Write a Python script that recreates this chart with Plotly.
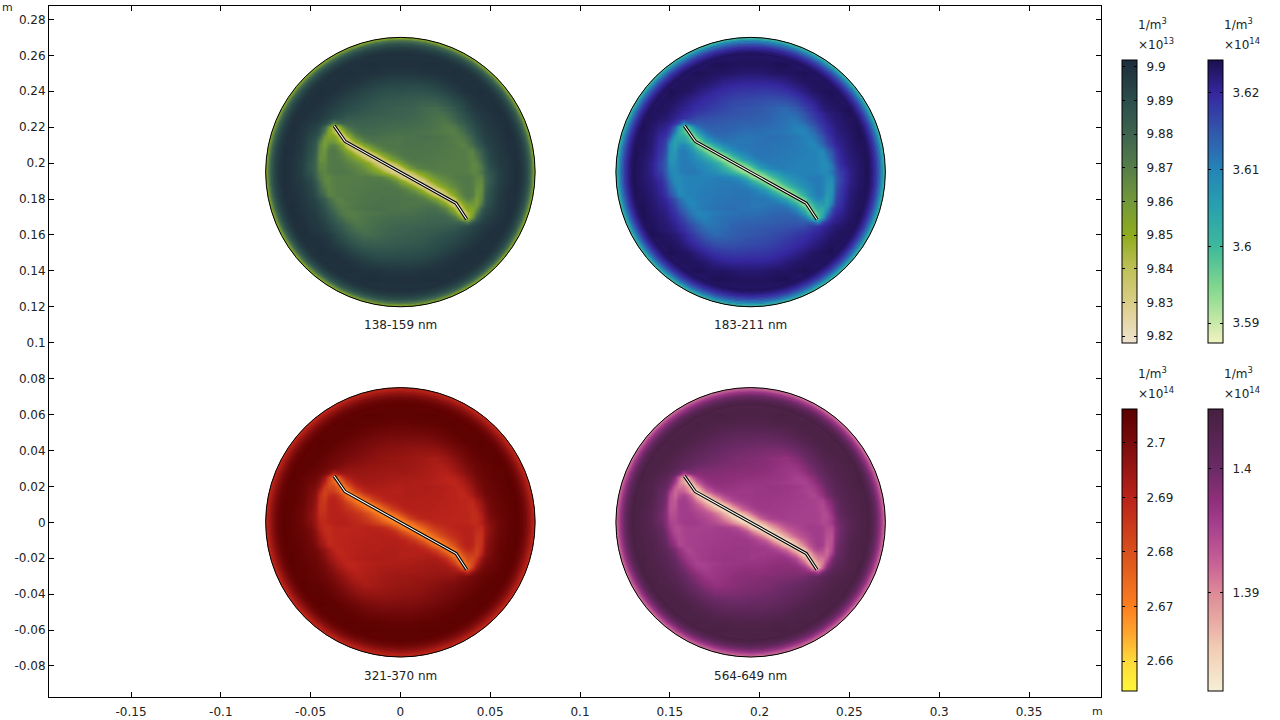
import numpy as np
import plotly.graph_objects as go
from plotly.colors import sample_colorscale

# axis ticks
X_TICKS = [-0.15, -0.1, -0.05, 0, 0.05, 0.1, 0.15, 0.2, 0.25, 0.3, 0.35]
X_LABELS = ["-0.15", "-0.1", "-0.05", "0", "0.05", "0.1", "0.15", "0.2", "0.25", "0.3", "0.35"]
Y_TICKS = [0.28, 0.26, 0.24, 0.22, 0.2, 0.18, 0.16, 0.14, 0.12, 0.1, 0.08, 0.06, 0.04, 0.02, 0,
           -0.02, -0.04, -0.06, -0.08]
Y_LABELS = ["0.28", "0.26", "0.24", "0.22", "0.2", "0.18", "0.16", "0.14", "0.12", "0.1", "0.08", "0.06",
            "0.04", "0.02", "0", "-0.02", "-0.04", "-0.06", "-0.08"]

# the four discs
DISC_LABELS = ["138-159 nm", "183-211 nm", "321-370 nm", "564-649 nm"]
DISC_CX = [0.0, 0.195, 0.0, 0.195]
DISC_CY = [0.195, 0.195, 0.0, 0.0]
DISC_R = 0.075

# plate outline relative to each disc centre (m)
PLATE_X = [-0.0369, -0.0308, 0.0310, 0.0369]
PLATE_Y = [0.0258, 0.0171, -0.0174, -0.0263]

# colour bar ranges, ticks
CB_MIN = [9.818, 3.5874, 2.6545, 1.3821]
CB_MAX = [9.902, 3.6243, 2.7062, 1.4048]
CB_TICKS_0 = [9.82, 9.83, 9.84, 9.85, 9.86, 9.87, 9.88, 9.89, 9.9]
CB_TICKS_1 = [3.59, 3.6, 3.61, 3.62]
CB_TICKS_2 = [2.66, 2.67, 2.68, 2.69, 2.7]
CB_TICKS_3 = [1.39, 1.4]
CB_EXP = ["13", "14", "14", "14"]

# colour maps (low value -> high value)
SCALE_0 = [[0, "#efe3d0"], [0.13, "#ddcf8c"], [0.26, "#bfc05a"], [0.38, "#8fac1e"], [0.5, "#72993a"],
           [0.62, "#567d47"], [0.74, "#3d6350"], [0.857, "#2b4d4b"], [1, "#1e2c3b"]]
SCALE_1 = [[0, "#f2f2c4"], [0.07, "#c9e9a9"], [0.2, "#80d68f"], [0.34, "#3fb99b"], [0.48, "#2aa0ae"],
           [0.61, "#2485b8"], [0.75, "#3356ab"], [0.88, "#3628a0"], [1, "#1d0f4f"]]
SCALE_2 = [[0, "#fff83a"], [0.106, "#ffd93a"], [0.2, "#fea730"], [0.3, "#fc7f20"], [0.493, "#d9501c"],
           [0.687, "#b9221a"], [0.88, "#7a0c0c"], [1, "#5a0000"]]
SCALE_3 = [[0, "#f5f0d5"], [0.15, "#f2cdb5"], [0.25, "#e8a9a3"], [0.348, "#dd8a98"], [0.45, "#c86296"],
           [0.6, "#a23d8c"], [0.68, "#8f2f7a"], [0.789, "#6b2a66"], [1, "#452040"]]
SCALES = [SCALE_0, SCALE_1, SCALE_2, SCALE_3]

# each disc's reading of the shared field: bar fraction at field 0 and at field 100, and curve
DISC_FLOOR = [0.0, 0.05, 0.2, 0.0]
DISC_CEIL = [1.0, 1.0, 1.0, 0.98]
DISC_CURVE = [0.92, 1.0, 1.0, 1.0]

# field, as percent of each colour bar; rows top to bottom, columns left to right,
# sample spacing 5 mm across the 150 mm disc
FIELD = [
 [90,90,90,90,90,90,90,90,90,90,90,90,90,90,90,90,90,90,90,90,90,90,90,90,90,90,90,90,90,90,90],
 [90,90,90,90,90,90,90,90,90,90,90,90,90,90,90,90,90,90,90,90,90,90,90,90,90,90,90,90,90,90,90],
 [90,90,90,90,90,90,90,90,90,90,91,93,95,96,97,97,97,96,95,93,91,90,90,90,90,90,90,90,90,90,90],
 [90,90,90,90,90,90,90,90,91,94,97,99,99,98,98,98,98,98,99,99,97,94,91,90,90,90,90,90,90,90,90],
 [90,90,90,90,90,90,90,93,97,99,98,97,97,96,95,95,95,96,97,97,98,99,97,93,90,90,90,90,90,90,90],
 [90,90,90,90,90,90,94,98,98,97,96,94,91,90,89,89,89,89,90,92,95,97,98,98,94,90,90,90,90,90,90],
 [90,90,90,90,90,94,99,98,97,94,91,88,86,84,83,83,82,82,83,85,89,93,97,98,99,94,90,90,90,90,90],
 [90,90,90,90,93,98,98,96,92,89,86,84,81,79,78,77,76,75,75,76,80,86,91,96,98,98,93,90,90,90,90],
 [90,90,90,94,98,98,96,92,89,85,83,80,78,76,75,74,73,71,69,68,72,79,86,93,96,98,99,95,90,90,90],
 [90,90,92,98,98,96,93,88,82,77,76,75,74,73,72,72,71,70,68,66,65,70,79,88,93,96,98,98,92,90,90],
 [90,90,94,99,96,92,85,70,60,65,70,71,71,70,69,68,68,67,66,64,62,63,70,82,90,95,97,99,94,90,90],
 [90,90,97,98,95,88,74,60,55,55,60,66,67,66,65,64,64,64,63,62,60,58,62,75,87,93,96,99,97,90,90],
 [90,92,98,98,94,85,70,58,55,50,45,50,60,63,62,62,62,61,60,59,58,56,57,68,82,91,95,98,98,92,90],
 [90,93,99,97,93,83,66,58,58,54,48,40,42,50,55,60,60,59,58,57,56,55,54,62,78,89,94,97,99,93,90],
 [90,95,99,96,91,80,64,60,60,58,54,48,42,38,42,48,52,56,57,56,55,54,53,58,74,87,93,96,99,95,90],
 [90,97,99,96,91,80,64,60,60,60,58,54,50,45,40,38,40,45,50,54,58,60,60,60,64,80,91,96,99,97,90],
 [90,95,99,96,93,87,74,58,53,54,55,56,57,56,52,48,42,38,42,48,54,58,60,60,64,80,91,96,99,95,90],
 [90,93,99,97,94,89,78,62,54,55,56,57,58,59,60,60,55,50,42,40,48,54,58,58,66,83,93,97,99,93,90],
 [90,92,98,98,95,91,82,68,57,56,58,59,60,61,62,62,62,63,60,50,45,50,55,58,70,85,94,98,98,92,90],
 [90,90,97,99,96,93,87,75,62,58,60,62,63,64,64,64,65,66,67,66,60,55,55,60,74,88,95,98,97,90,90],
 [90,90,94,99,97,95,90,82,70,63,62,64,66,67,68,68,69,70,71,71,70,65,60,70,85,92,96,99,94,90,90],
 [90,90,92,98,98,96,93,88,79,70,65,66,68,70,71,72,72,73,74,75,76,77,82,88,93,96,98,98,92,90,90],
 [90,90,90,95,99,98,96,93,86,79,72,68,69,71,73,74,75,76,78,80,83,85,89,92,96,98,98,94,90,90,90],
 [90,90,90,90,93,98,98,96,91,86,80,76,75,75,76,77,78,79,81,84,86,89,92,96,98,98,93,90,90,90,90],
 [90,90,90,90,90,94,99,98,97,93,89,85,83,82,82,83,83,84,86,88,91,94,97,98,99,94,90,90,90,90,90],
 [90,90,90,90,90,90,94,98,98,97,95,92,90,89,89,89,89,90,91,94,96,97,98,98,94,90,90,90,90,90,90],
 [90,90,90,90,90,90,90,93,97,99,98,97,97,96,95,95,95,96,97,97,98,99,97,93,90,90,90,90,90,90,90],
 [90,90,90,90,90,90,90,90,91,94,97,99,99,98,98,98,98,98,99,99,97,94,91,90,90,90,90,90,90,90,90],
 [90,90,90,90,90,90,90,90,90,90,91,93,95,96,97,97,97,96,95,93,91,90,90,90,90,90,90,90,90,90,90],
 [90,90,90,90,90,90,90,90,90,90,90,90,90,90,90,90,90,90,90,90,90,90,90,90,90,90,90,90,90,90,90],
 [90,90,90,90,90,90,90,90,90,90,90,90,90,90,90,90,90,90,90,90,90,90,90,90,90,90,90,90,90,90,90],
]

# finer reading of the central part around the plate: 2.5 mm spacing, +/-50 mm by +/-35 mm
PATCH = [
 [98,97,96,94,92,90,89,87,85,84,83,81,80,79,78,77,76,75,75,74,74,73,73,72,71,70,69,68,68,70,72,75,79,83,86,90,93,95,96,97,98],
 [97,96,94,92,90,87,86,83,81,80,79,78,77,76,76,75,75,74,74,73,73,72,72,71,70,69,68,67,66,66,68,70,74,78,82,86,89,92,94,95,96],
 [96,95,93,90,88,85,82,80,77,76,76,75,75,74,74,73,73,73,72,72,72,71,71,70,70,68,67,66,65,64,65,68,72,76,80,84,88,91,93,95,96],
 [94,92,90,85,78,60,68,72,72,72,73,73,73,72,72,71,71,70,70,70,70,70,69,69,68,67,66,65,64,63,62,64,67,72,76,81,85,89,92,94,95],
 [92,90,85,72,48,22,22,50,62,68,70,71,71,71,71,70,70,69,69,68,68,68,68,67,67,66,66,65,64,62,60,60,62,66,71,77,82,87,90,93,95],
 [90,87,80,62,40,28,12,26,46,58,65,68,69,69,69,68,68,67,66,66,66,66,66,65,65,64,64,63,62,61,60,59,59,62,67,73,79,85,89,92,94],
 [88,84,74,50,40,40,28,10,28,44,56,62,66,67,67,66,66,65,65,64,64,65,65,65,66,66,66,65,65,64,63,62,60,60,63,68,75,82,87,91,93],
 [86,80,62,44,48,46,38,20,8,25,40,50,58,62,64,64,64,63,63,63,63,65,65,65,65,65,65,64,64,63,62,61,60,58,60,65,71,79,85,90,92],
 [85,78,56,44,54,58,52,38,20,8,16,30,42,50,56,60,62,63,64,64,64,65,65,65,65,64,64,64,64,63,62,62,61,59,57,61,68,76,82,88,91],
 [84,76,54,48,60,62,58,50,38,26,14,7,16,30,42,50,56,60,61,62,63,64,64,64,64,64,64,63,63,62,62,61,61,60,60,58,58,68,76,84,90],
 [83,74,52,50,60,62,60,55,48,40,30,18,9,7,17,30,42,50,55,59,62,64,64,64,64,63,63,63,62,62,62,61,61,60,60,58,56,64,72,82,89],
 [82,72,52,52,60,62,61,58,54,50,44,36,27,16,6,9,20,32,43,50,55,60,62,63,63,63,63,62,62,61,61,61,60,60,60,58,56,60,70,80,88],
 [80,71,54,54,60,62,62,60,58,55,52,48,42,34,24,13,5,9,20,30,41,52,57,60,61,62,62,62,61,61,61,60,60,60,60,59,55,56,66,78,87],
 [80,71,56,56,60,62,62,62,60,58,56,53,50,44,37,29,20,10,4,8,18,32,44,52,57,59,60,61,61,60,60,60,60,60,60,59,55,56,62,74,85],
 [82,72,60,56,60,62,63,63,62,60,58,56,54,50,46,40,33,25,16,8,3,10,20,30,40,46,51,55,58,59,60,60,60,60,60,59,56,57,64,74,82],
 [85,74,62,56,55,59,60,60,60,60,60,60,61,61,60,59,57,52,44,32,18,8,4,10,20,29,37,44,50,53,56,58,60,62,62,62,60,56,56,71,80],
 [87,78,66,56,55,59,60,60,60,60,61,61,61,62,62,62,61,60,57,52,41,30,20,9,5,13,24,34,42,48,52,55,58,60,62,62,60,54,54,71,80],
 [88,80,70,60,56,58,60,60,60,61,61,61,62,62,63,63,63,63,62,60,55,50,43,32,20,9,6,16,27,36,44,50,54,58,61,62,60,52,52,72,82],
 [89,82,72,64,56,58,60,60,61,61,62,62,62,63,63,63,64,64,64,64,62,59,55,50,42,30,17,7,9,18,30,40,48,55,60,62,60,50,52,74,83],
 [90,84,76,68,58,58,60,60,61,61,62,62,63,63,64,64,64,64,64,64,63,62,61,60,56,50,42,30,16,7,14,26,38,50,58,62,60,48,54,76,84],
 [91,88,82,76,68,61,57,59,61,62,62,63,64,64,64,64,65,65,65,65,64,64,64,63,62,60,56,50,42,30,16,8,20,38,52,58,54,44,56,78,85],
 [92,90,85,79,71,65,60,58,60,61,62,63,64,64,65,65,65,65,65,65,63,63,63,63,64,64,64,62,58,50,40,25,8,20,38,46,48,44,62,80,86],
 [93,91,87,82,75,68,63,60,60,62,63,64,65,65,66,66,66,65,65,65,64,64,65,65,66,66,67,67,66,62,56,44,28,10,28,40,40,50,74,84,88],
 [94,92,89,85,79,73,67,62,59,59,60,61,62,63,64,64,65,65,66,66,66,66,66,67,68,68,69,69,69,68,65,58,46,26,12,28,40,62,80,87,90],
 [95,93,90,87,82,77,71,66,62,60,60,62,64,65,66,66,67,67,68,68,68,68,69,69,70,70,71,71,71,71,70,68,62,50,22,22,48,72,85,90,92],
 [95,94,92,89,85,81,76,72,67,64,62,63,64,65,66,67,68,69,69,70,70,70,70,70,71,71,72,72,73,73,73,72,72,72,68,60,78,85,90,92,94],
 [96,95,93,91,88,84,80,76,72,68,65,64,65,66,67,68,70,70,71,71,72,72,72,73,73,73,74,74,75,75,76,76,77,80,82,85,88,90,93,95,96],
 [96,95,94,92,89,86,82,78,74,70,68,66,66,67,68,69,70,71,72,72,73,73,74,74,75,75,76,76,77,78,79,80,81,83,86,87,90,92,94,96,97],
 [98,97,96,95,93,90,86,83,79,75,72,70,68,68,69,70,71,72,73,73,74,74,75,75,76,77,78,79,80,81,83,84,85,87,89,90,92,94,96,97,98],
]

# bright rim of each disc: radius fraction and percent of colour bar
RIM_RADII = [0.995, 0.985, 0.975, 0.965, 0.955, 0.945, 0.935, 0.925, 0.915, 0.905, 0.895, 0.885, 0.875]
RIM_LEVELS_0 = [42, 55, 66, 74, 80, 85, 88, 91, 93, 95, 96, 97, 98]
RIM_LEVELS_1 = [36, 48, 58, 66, 72, 78, 83, 87, 90, 93, 95, 97, 98]
RIM_LEVELS_2 = [65, 70, 74, 78, 82, 85, 88, 91, 93, 95, 96, 97, 98]
RIM_LEVELS_3 = [42, 50, 58, 65, 70, 76, 81, 85, 89, 92, 94, 96, 98]
RIM_LEVELS = [RIM_LEVELS_0, RIM_LEVELS_1, RIM_LEVELS_2, RIM_LEVELS_3]

# pixel frame of the axes
L, R, T, B = 49, 1101, 6, 697
PW, PH = R - L, B - T
px = lambda v: (v - L) / PW
py = lambda v: (B - v) / PH

field = np.array(FIELD, dtype=float)[::-1] / 100.0
grid = np.linspace(-DISC_R, DISC_R, field.shape[0])
patch = np.array(PATCH, dtype=float)[::-1] / 100.0
patch_x = np.linspace(-0.05, 0.05, patch.shape[1])
patch_y = np.linspace(-0.035, 0.035, patch.shape[0])

fig = go.Figure()
shapes = []
annotations = []
TEXT = dict(family="DejaVu Sans", size=12, color="#222222")

CB_TICKS = [CB_TICKS_0, CB_TICKS_1, CB_TICKS_2, CB_TICKS_3]
CB_LEFT = [1122.3, 1208.3, 1122.3, 1208.3]
CB_TOP = [60, 60, 409, 409]
CB_LEN = [283, 283, 282, 282]
coloraxes = {}
CLEAR = [[0, "rgba(0,0,0,0)"], [1, "rgba(0,0,0,0)"]]

for i in range(4):
    cx, cy = DISC_CX[i], DISC_CY[i]
    lo, hi = CB_MIN[i], CB_MAX[i]
    name = "coloraxis" if i == 0 else f"coloraxis{i + 1}"
    level = lambda f: lo + (DISC_FLOOR[i] + f ** DISC_CURVE[i] * (DISC_CEIL[i] - DISC_FLOOR[i])) * (hi - lo)
    fig.add_trace(go.Heatmap(x=cx + grid, y=cy + grid, z=level(field), coloraxis=name,
                             zsmooth="best", hoverinfo="skip"))
    fig.add_trace(go.Heatmap(x=cx + patch_x, y=cy + patch_y, z=level(patch), coloraxis=name,
                             zsmooth="best", hoverinfo="skip"))
    coloraxes[name] = dict(
        cmin=lo, cmax=hi, colorscale=SCALES[i],
        colorbar=dict(
            x=px(CB_LEFT[i]), xanchor="left", xpad=0, y=py(CB_TOP[i]), yanchor="top", ypad=0,
            thickness=15, thicknessmode="pixels", len=CB_LEN[i], lenmode="pixels",
            outlinecolor="black", outlinewidth=1, bordercolor="rgba(0,0,0,0)", borderwidth=0,
            tickmode="array", tickvals=CB_TICKS[i], ticktext=["\u00a0\u2009" + f"{t:g}" for t in CB_TICKS[i]],
            ticks="inside", ticklen=3, tickcolor="black", tickwidth=1, tickfont=TEXT,
        ),
    )
    # second, see-through bar over the left side of the first: carries the left-hand tick marks
    name2 = f"coloraxis{i + 5}"
    fig.add_trace(go.Heatmap(x=[1.0, 1.1], y=[1.0, 1.1], z=[[lo, hi], [lo, hi]], coloraxis=name2, hoverinfo="skip"))
    coloraxes[name2] = dict(
        cmin=lo, cmax=hi, colorscale=CLEAR,
        colorbar=dict(
            x=px(CB_LEFT[i]), xanchor="left", xpad=0, y=py(CB_TOP[i]), yanchor="top", ypad=0,
            thickness=3, thicknessmode="pixels", len=CB_LEN[i], lenmode="pixels", outlinewidth=0, borderwidth=0,
            tickmode="array", tickvals=CB_TICKS[i], ticks="inside", ticklen=3, tickcolor="black", tickwidth=1,
            showticklabels=False,
        ),
    )
    # white surround with a round hole
    t = np.linspace(0, 2 * np.pi, 181)
    hole = " ".join(("M" if k == 0 else "L") + f"{cx + DISC_R * np.cos(a):.5f},{cy + DISC_R * np.sin(a):.5f}"
                    for k, a in enumerate(t)) + " Z"
    s = 0.085
    square = (f"M{cx - s},{cy - s} L{cx - s},{cy + s} L{cx + s},{cy + s} L{cx + s},{cy - s} Z")
    shapes.append(dict(type="path", path=square + " " + hole, xref="x", yref="y",
                       fillcolor="white", line=dict(width=0), layer="above"))
    rim_colors = sample_colorscale(SCALES[i], [v / 100.0 for v in RIM_LEVELS[i]])
    for f, c in list(zip(RIM_RADII, rim_colors))[::-1]:
        r = DISC_R * f
        shapes.append(dict(type="circle", xref="x", yref="y", x0=cx - r, x1=cx + r, y0=cy - r, y1=cy + r,
                           line=dict(color=c, width=1.7), fillcolor="rgba(0,0,0,0)", layer="above"))
    shapes.append(dict(type="circle", xref="x", yref="y", x0=cx - DISC_R, x1=cx + DISC_R, y0=cy - DISC_R,
                       y1=cy + DISC_R, line=dict(color="black", width=1), fillcolor="rgba(0,0,0,0)", layer="above"))
    # plate: black outline with a white core
    px_ = [cx + v for v in PLATE_X]
    py_ = [cy + v for v in PLATE_Y]
    fig.add_trace(go.Scatter(x=px_, y=py_, mode="lines", line=dict(color="black", width=3.2), hoverinfo="skip",
                             showlegend=False))
    fig.add_trace(go.Scatter(x=px_, y=py_, mode="lines", line=dict(color="white", width=1.1), hoverinfo="skip",
                             showlegend=False))
    annotations.append(dict(x=cx, y=cy - 0.0853, xref="x", yref="y", text=DISC_LABELS[i], showarrow=False, font=TEXT))
    # colour bar title
    tx = CB_LEFT[i] + 14
    annotations.append(dict(x=px(tx), y=py(CB_TOP[i] - 36), xref="paper", yref="paper", text="1/m<sup>3</sup>",
                            showarrow=False, xanchor="left", yanchor="middle", font=TEXT))
    annotations.append(dict(x=px(tx), y=py(CB_TOP[i] - 16), xref="paper", yref="paper",
                            text="×10<sup>" + CB_EXP[i] + "</sup>", showarrow=False, xanchor="left",
                            yanchor="middle", font=TEXT))

M_FONT = dict(family="DejaVu Sans", size=11, color="#222222")
annotations.append(dict(x=px(7), y=py(7), xref="paper", yref="paper", text="m", showarrow=False,
                        xanchor="center", yanchor="middle", font=M_FONT))
annotations.append(dict(x=px(1097), y=py(711), xref="paper", yref="paper", text="m", showarrow=False,
                        xanchor="center", yanchor="middle", font=M_FONT))

axis_common = dict(showgrid=False, zeroline=False, showline=True, linecolor="black", linewidth=1, mirror="ticks",
                   ticks="inside", ticklen=5, tickcolor="black", tickwidth=1, tickmode="array", tickfont=TEXT)
fig.update_xaxes(range=[(L - 400.4) / 1796, (R - 400.4) / 1796], tickvals=X_TICKS, ticktext=X_LABELS,
                 ticklabelstandoff=4, **axis_common)
fig.update_yaxes(range=[(522.3 - B) / 1796, (522.3 - T) / 1796], tickvals=Y_TICKS, ticktext=Y_LABELS, **axis_common)
fig.update_layout(width=1280, height=720, margin=dict(l=L, r=1280 - R, t=T, b=720 - B, autoexpand=False),
                  paper_bgcolor="white", plot_bgcolor="white", showlegend=False, shapes=shapes,
                  annotations=annotations, **coloraxes)
fig.write_html("out.html", config=dict(displayModeBar=False),
               post_script="document.body.style.margin='0';document.body.style.overflow='hidden';")
